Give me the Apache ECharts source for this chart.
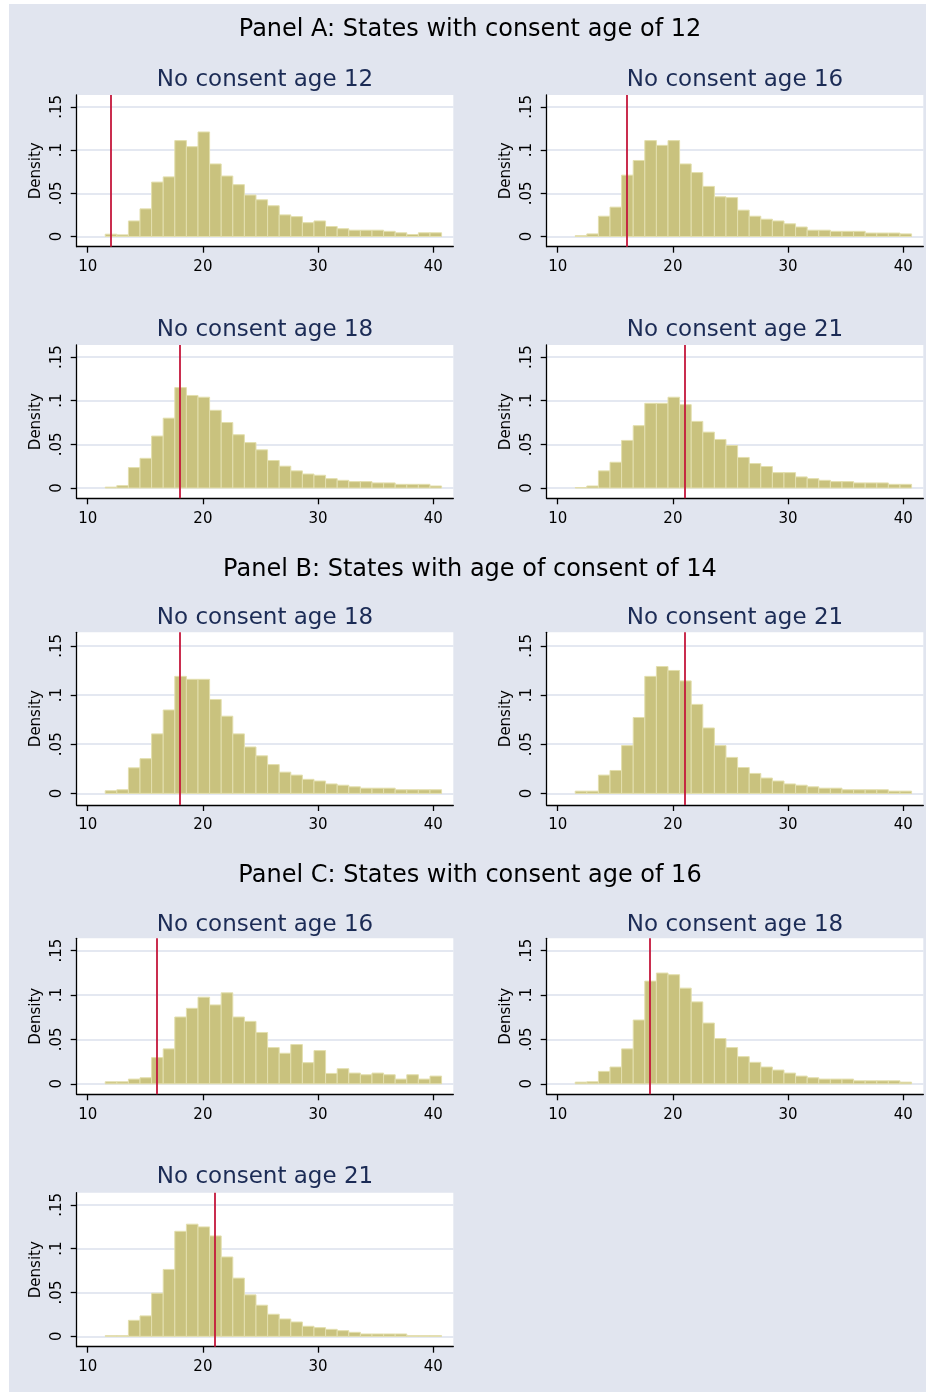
<!DOCTYPE html>
<html>
<head>
<meta charset="utf-8">
<title>Age at marriage by consent age</title>
<script src="https://cdn.jsdelivr.net/npm/echarts@6/dist/echarts.min.js"></script>
<style>
html, body { margin: 0; padding: 0; background: #fff; }
#main { width: 933px; height: 1392px; }
</style>
</head>
<body>
<div id="main"></div>
<script>
// histogram bins (same for every plot)
var binStart = 11.52;
var binWidth = 1.007;
var xTicks = [10, 20, 30, 40];
var yTicks = [0, 0.05, 0.1, 0.15];

var panelTitles = [
	'Panel A: States with consent age of 12',
	'Panel B: States with age of consent of 14',
	'Panel C: States with consent age of 16'
];
var plotTitles = ['No consent age 12', 'No consent age 16', 'No consent age 18', 'No consent age 21',
	'No consent age 18', 'No consent age 21',
	'No consent age 16', 'No consent age 18', 'No consent age 21'];
var cutoffs = [12, 16, 18, 21, 18, 21, 16, 18, 21];

// densities
var a12_nc12 = [0.0027, 0.0019, 0.018, 0.032, 0.063, 0.069, 0.111, 0.104, 0.121, 0.084, 0.070, 0.060, 0.048, 0.0425, 0.0356, 0.025, 0.023, 0.016, 0.018, 0.0116, 0.009, 0.0073, 0.0073, 0.0073, 0.006, 0.0043, 0.0023, 0.0043, 0.0043];
var a12_nc16 = [0.001, 0.003, 0.0235, 0.034, 0.071, 0.088, 0.111, 0.1055, 0.111, 0.084, 0.074, 0.058, 0.046, 0.045, 0.0305, 0.0235, 0.020, 0.018, 0.0147, 0.011, 0.0073, 0.0073, 0.006, 0.006, 0.006, 0.004, 0.004, 0.004, 0.003];
var a12_nc18 = [0.001, 0.0027, 0.0234, 0.034, 0.0595, 0.080, 0.115, 0.106, 0.104, 0.089, 0.075, 0.061, 0.052, 0.0437, 0.0315, 0.025, 0.0196, 0.016, 0.0146, 0.0107, 0.0088, 0.0073, 0.0073, 0.0058, 0.0058, 0.0042, 0.0042, 0.0042, 0.0023];
var a12_nc21 = [0.0005, 0.0023, 0.0196, 0.0295, 0.0545, 0.0714, 0.097, 0.097, 0.104, 0.0955, 0.0763, 0.064, 0.0556, 0.0487, 0.035, 0.028, 0.0246, 0.0176, 0.0176, 0.0127, 0.0107, 0.0088, 0.0073, 0.0073, 0.0058, 0.0058, 0.0058, 0.0042, 0.0042];
var b14_nc18 = [0.0027, 0.0037, 0.026, 0.0353, 0.0605, 0.0848, 0.119, 0.116, 0.116, 0.0955, 0.0785, 0.0605, 0.0472, 0.0382, 0.0293, 0.0216, 0.0186, 0.0143, 0.0126, 0.0096, 0.0083, 0.0067, 0.0053, 0.0053, 0.0053, 0.0037, 0.0037, 0.0037, 0.0037];
var b14_nc21 = [0.0023, 0.0023, 0.0186, 0.0233, 0.0486, 0.0772, 0.119, 0.129, 0.125, 0.1144, 0.0905, 0.0665, 0.0486, 0.0366, 0.0263, 0.0203, 0.0156, 0.0126, 0.0096, 0.0083, 0.0067, 0.0053, 0.0053, 0.0037, 0.0037, 0.0037, 0.0037, 0.0023, 0.0023];
var c16_nc16 = [0.0023, 0.0023, 0.0053, 0.0068, 0.0295, 0.0393, 0.0752, 0.085, 0.0975, 0.0888, 0.1024, 0.0752, 0.0703, 0.0578, 0.0408, 0.0344, 0.0442, 0.0238, 0.0374, 0.0117, 0.017, 0.0121, 0.0102, 0.0121, 0.0102, 0.0053, 0.0102, 0.0053, 0.0087];
var c16_nc18 = [0.0019, 0.0023, 0.014, 0.0189, 0.0393, 0.0718, 0.1156, 0.1247, 0.1228, 0.1077, 0.0922, 0.0684, 0.051, 0.0408, 0.0306, 0.0242, 0.0189, 0.0155, 0.0121, 0.0087, 0.0068, 0.0053, 0.0053, 0.0053, 0.0034, 0.0034, 0.0034, 0.0034, 0.0019];
var c16_nc21 = [0.0008, 0.0008, 0.0183, 0.0233, 0.0492, 0.0763, 0.1198, 0.1279, 0.1248, 0.1145, 0.0905, 0.0664, 0.0473, 0.0355, 0.0252, 0.0198, 0.0164, 0.0115, 0.0099, 0.008, 0.0065, 0.0046, 0.0027, 0.0027, 0.0027, 0.0027, 0.0008, 0.0008, 0.0008];

var densities = [a12_nc12, a12_nc16, a12_nc18, a12_nc21, b14_nc18, b14_nc21, c16_nc16, c16_nc18, c16_nc21];

// layout
var fontName = 'DejaVu Sans';
var colLeft = [76.7, 546.7];
var plotWidth = 376.6;
var rowTop = [95, 345, 632.3, 938.3, 1192.7];
var rowHeight = [151.7, 153.3, 172.7, 156, 154];
var subTitleTop = [68.5, 318.5, 606.5, 913.5, 1165.5];
var panelTitleTop = [18, 558, 864];
var slots = [[0, 0], [0, 1], [1, 0], [1, 1], [2, 0], [2, 1], [3, 0], [3, 1], [4, 0]];

var xMin = 9.045, xMax = 41.74;
var yMin = -0.0118, yMax = 0.1638;

var barFill = '#c9c27e';
var barEdge = '#e3dfae';
var cutColor = '#c4173b';

function binRows(values) {
	var rows = [];
	for (var i = 0; i < values.length; i++) {
		var x0 = binStart + i * binWidth;
		rows.push([x0, x0 + binWidth, values[i]]);
	}
	return rows;
}

function renderBar(params, api) {
	var lo = api.coord([api.value(0), 0]);
	var hi = api.coord([api.value(1), api.value(2)]);
	return {
		type: 'rect',
		shape: { x: lo[0], y: hi[1], width: hi[0] - lo[0], height: lo[1] - hi[1] },
		style: { fill: barFill, stroke: barEdge, lineWidth: 1 }
	};
}

function yLabel(v) {
	if (v === 0) return '0';
	return String(v).replace(/^0/, '');
}

var myChart = echarts.init(document.getElementById('main'));

var titles = [], grids = [], xAxes = [], yAxes = [], series = [];

for (var p = 0; p < panelTitles.length; p++) {
	titles.push({
		text: panelTitles[p],
		left: 470,
		top: panelTitleTop[p],
		textAlign: 'center',
		padding: 0,
		textStyle: { fontFamily: fontName, fontSize: 24, fontWeight: 'normal', color: '#000' }
	});
}

for (var k = 0; k < densities.length; k++) {
	var row = slots[k][0], col = slots[k][1];
	titles.push({
		text: plotTitles[k],
		left: colLeft[col] + plotWidth / 2,
		top: subTitleTop[row],
		textAlign: 'center',
		padding: 0,
		textStyle: { fontFamily: fontName, fontSize: 23, fontWeight: 'normal', color: '#1b2b55' }
	});
	grids.push({
		left: colLeft[col],
		top: rowTop[row],
		width: plotWidth,
		height: rowHeight[row],
		show: true,
		backgroundColor: '#ffffff',
		borderWidth: 0
	});
	xAxes.push({
		gridIndex: k,
		type: 'value',
		min: xMin,
		max: xMax,
		axisLine: { show: true, onZero: false, lineStyle: { color: '#000', width: 1.3 } },
		axisTick: { show: true, length: 6, customValues: xTicks, lineStyle: { color: '#000', width: 1.3 } },
		axisLabel: { customValues: xTicks, margin: 13, fontFamily: fontName, fontSize: 15, color: '#000' },
		splitLine: { show: false }
	});
	yAxes.push({
		gridIndex: k,
		type: 'value',
		min: yMin,
		max: yMax,
		name: 'Density',
		nameLocation: 'middle',
		nameRotate: 90,
		nameGap: 33,
		nameTextStyle: { fontFamily: fontName, fontSize: 15, color: '#000' },
		axisLine: { show: true, onZero: false, lineStyle: { color: '#000', width: 1.3 } },
		axisTick: { show: true, length: 6, customValues: yTicks, lineStyle: { color: '#000', width: 1.3 } },
		axisLabel: {
			customValues: yTicks, rotate: 90, margin: 12,
			fontFamily: fontName, fontSize: 15, color: '#000',
			formatter: yLabel
		},
		splitLine: { show: true, lineStyle: { color: '#dbe1ec', width: 1.6 } }
	});
	series.push({
		type: 'custom',
		xAxisIndex: k,
		yAxisIndex: k,
		renderItem: renderBar,
		encode: { x: [0, 1], y: 2 },
		data: binRows(densities[k]),
		silent: true,
		markLine: {
			silent: true,
			symbol: 'none',
			label: { show: false },
			lineStyle: { color: cutColor, width: 1.8, type: 'solid' },
			data: [{ xAxis: cutoffs[k] }]
		}
	});
}

option = {
	backgroundColor: '#ffffff',
	animation: false,
	graphic: [{
		type: 'rect',
		z: -10,
		shape: { x: 9, y: 4, width: 917, height: 1388 },
		style: { fill: '#e1e5ef' }
	}],
	title: titles,
	grid: grids,
	xAxis: xAxes,
	yAxis: yAxes,
	series: series
};
myChart.setOption(option);
</script>
</body>
</html>
